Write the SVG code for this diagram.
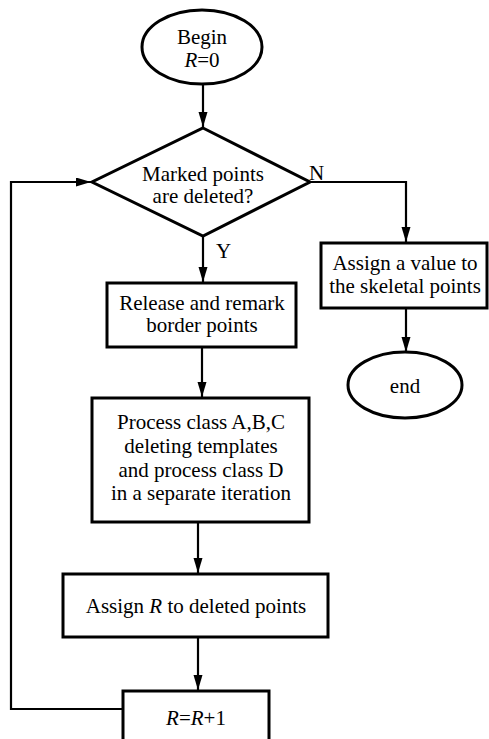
<svg xmlns="http://www.w3.org/2000/svg" width="489" height="739" viewBox="0 0 489 739">
<style>
.s{fill:#fff;stroke:#000;stroke-width:3}
.c{fill:none;stroke:#000;stroke-width:2.2}
text{font-family:"Liberation Serif","Times New Roman",serif;font-size:21px;fill:#000;text-anchor:middle}
.l{text-anchor:start}
</style>
<defs>
<marker id="ah" markerUnits="userSpaceOnUse" markerWidth="16" markerHeight="10" refX="15" refY="4.5" orient="auto">
<path d="M0,0 L15,4.5 L0,9 Z" fill="#000"/>
</marker>
</defs>
<rect width="489" height="739" fill="#fff"/>
<g id="connectors">
<path class="c" d="M203,84 V127" marker-end="url(#ah)"/>
<path class="c" d="M310,182 H406 V242" marker-end="url(#ah)"/>
<path class="c" d="M203,235 V282" marker-end="url(#ah)"/>
<path class="c" d="M406,308 V352" marker-end="url(#ah)"/>
<path class="c" d="M202,347 V397" marker-end="url(#ah)"/>
<path class="c" d="M198,523 V573" marker-end="url(#ah)"/>
<path class="c" d="M198,637 V690" marker-end="url(#ah)"/>
<path class="c" d="M123,709 H11 V182 H91" marker-end="url(#ah)"/>
<text class="l" x="309" y="180">N</text>
<text class="l" x="216" y="258">Y</text>
</g>
<g id="begin">
<ellipse class="s" cx="202" cy="47" rx="60" ry="37"/>
<text x="202" y="44">Begin</text>
<text x="202" y="67"><tspan font-style="italic">R</tspan>=0</text>
</g>
<g id="decision">
<polygon class="s" points="203,128 310,182 203,236 92,182"/>
<text x="203" y="181">Marked points</text>
<text x="203" y="203">are deleted?</text>
</g>
<g id="assign-value">
<rect class="s" x="321" y="243" width="166" height="65"/>
<text x="405" y="270">Assign a value to</text>
<text x="405" y="293">the skeletal points</text>
</g>
<g id="end">
<ellipse class="s" cx="405" cy="385" rx="57" ry="33"/>
<text x="405" y="393">end</text>
</g>
<g id="release">
<rect class="s" x="107" y="283" width="189" height="64"/>
<text x="202" y="310">Release and remark</text>
<text x="202" y="332">border points</text>
</g>
<g id="process">
<rect class="s" x="92" y="398" width="217" height="124"/>
<text x="201" y="429">Process class A,B,C</text>
<text x="201" y="453">deleting templates</text>
<text x="201" y="477">and process class D</text>
<text x="201" y="500">in a separate iteration</text>
</g>
<g id="assign-r">
<rect class="s" x="63" y="574" width="265" height="63"/>
<text x="196" y="613">Assign <tspan font-style="italic">R</tspan> to deleted points</text>
</g>
<g id="increment">
<rect class="s" x="123" y="691" width="146" height="60"/>
<text x="196" y="725"><tspan font-style="italic">R</tspan>=<tspan font-style="italic">R</tspan>+1</text>
</g>
</svg>
